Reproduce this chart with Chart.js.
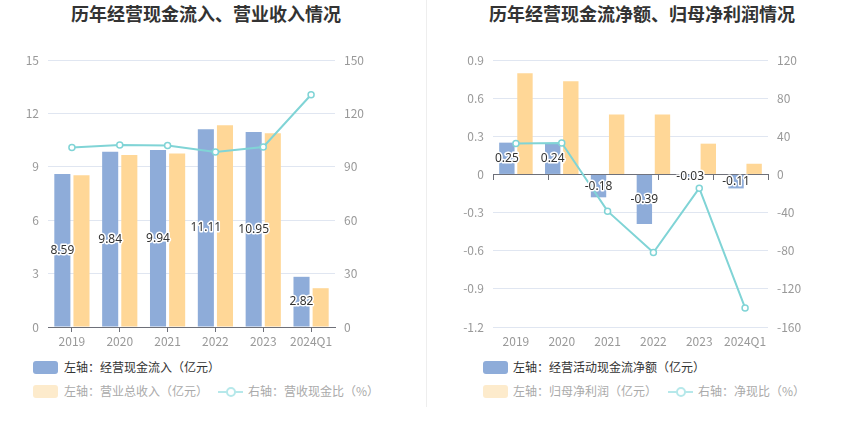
<!doctype html>
<html lang="zh">
<head>
<meta charset="utf-8">
<title>历年经营现金流情况</title>
<script src="https://cdn.jsdelivr.net/npm/chart.js"></script>
<style>
  html, body { margin: 0; padding: 0; background: #fff; overflow: hidden; }
  body { font-family: "Noto Sans CJK SC", "Noto Sans", sans-serif; }
  #wrap { position: relative; width: 850px; height: 437px; }
  .title { position: absolute; top: 2px; height: 22px; line-height: 22px; font-size: 18px; font-weight: bold; color: #333; text-align: center; }
  .sep { position: absolute; left: 426px; top: 0; width: 1px; height: 407px; background: #eeeeee; }
  canvas { position: absolute; top: 40px; }
  .box { position: absolute; width: 25px; height: 13px; border-radius: 3px; }
  .txt { position: absolute; font-size: 12px; line-height: 14px; white-space: nowrap; }
  .ico { position: absolute; width: 25px; height: 2px; }
  .ico i { position: absolute; left: 8px; top: -4px; width: 6px; height: 6px; border-radius: 50%; background: #fff; border: 2px solid #b6e8ea; }
</style>
</head>
<body>
<div id="wrap">
  <div class="title" style="left:0;width:412px">历年经营现金流入、营业收入情况</div>
  <div class="title" style="left:427px;width:430px">历年经营现金流净额、归母净利润情况</div>
  <div class="sep"></div>
  <canvas id="c1" width="425" height="311" style="left:0"></canvas>
  <canvas id="c2" width="425" height="311" style="left:425px"></canvas>

  <div class="box" style="left:33px;top:361px;background:#8eacd9"></div>
  <div class="txt" style="left:64px;top:360px;color:#333">左轴：经营现金流入（亿元）</div>
  <div class="box" style="left:33px;top:385px;background:#fdebcc"></div>
  <div class="txt" style="left:64px;top:384px;color:#aaa">左轴：营业总收入（亿元）</div>
  <div class="ico" style="left:218px;top:391px;background:#b6e8ea"><i></i></div>
  <div class="txt" style="left:248px;top:384px;color:#aaa">右轴：营收现金比（%）</div>

  <div class="box" style="left:483px;top:361px;background:#8eacd9"></div>
  <div class="txt" style="left:513px;top:360px;color:#333">左轴：经营活动现金流净额（亿元）</div>
  <div class="box" style="left:483px;top:385px;background:#fdebcc"></div>
  <div class="txt" style="left:513px;top:384px;color:#aaa">左轴：归母净利润（亿元）</div>
  <div class="ico" style="left:668px;top:391px;background:#b6e8ea"><i></i></div>
  <div class="txt" style="left:698px;top:384px;color:#aaa">右轴：净现比（%）</div>
</div>

<script>
  // data
  const years = ['2019', '2020', '2021', '2022', '2023', '2024Q1'];

  const cashIn = [8.59, 9.84, 9.94, 11.11, 10.95, 2.82];
  const revenue = [8.53, 9.66, 9.75, 11.34, 10.88, 2.18];
  const cashRevRatio = [100.9, 102.2, 102.0, 98.3, 101.1, 130.5];

  const netCash = [0.25, 0.24, -0.18, -0.39, -0.03, -0.11];
  const netProfit = [0.795, 0.732, 0.472, 0.472, 0.242, 0.084];
  const netCashRatio = [32.5, 32.9, -38.5, -81.9, -14.4, -140.0];

  const BLUE = '#8eacd9';
  const ORANGE = '#ffd797';
  const CYAN = '#80d4d6';
  const GRID = '#e0e6f1';
  const AXIS = '#6e7079';
  const TICK = '#999';

  Chart.defaults.font.family = '"Noto Sans CJK SC", "Noto Sans", sans-serif';
  Chart.defaults.font.size = 12;

  // value labels in the middle of the first bar series
  const barLabels = {
    id: 'barLabels',
    afterDatasetsDraw(chart) {
      const ctx = chart.ctx;
      const meta = chart.getDatasetMeta(0);
      const data = chart.data.datasets[0].data;
      ctx.save();
      ctx.font = '12px "Noto Sans", sans-serif';
      ctx.textAlign = 'center';
      ctx.textBaseline = 'middle';
      ctx.lineJoin = 'round';
      meta.data.forEach((bar, i) => {
        const y = (bar.y + bar.base) / 2;
        const t = data[i].toFixed(2);
        ctx.lineWidth = 3;
        ctx.strokeStyle = '#fff';
        ctx.strokeText(t, bar.x, y);
        ctx.fillStyle = '#333';
        ctx.fillText(t, bar.x, y);
      });
      ctx.restore();
    }
  };

  function lineSet(values) {
    return {
      type: 'line', data: values, yAxisID: 'y1', order: 0,
      borderColor: CYAN, borderWidth: 2,
      pointRadius: 3, pointBorderWidth: 1.5,
      pointBackgroundColor: '#fff', pointBorderColor: CYAN,
      tension: 0
    };
  }

  function barSet(values, color, cp, bp) {
    return {
      type: 'bar', data: values, yAxisID: 'y', order: 1,
      backgroundColor: color, categoryPercentage: cp, barPercentage: bp
    };
  }

  function yAxis(pos, min, max, step, width, grid) {
    return {
      position: pos, min, max,
      ticks: { stepSize: step, color: TICK, padding: 9 },
      grid: { display: grid, color: GRID, drawTicks: false },
      border: { display: false },
      afterFit(s) { s.width = width; }
    };
  }

  const flatTicks = { color: TICK, maxRotation: 0, minRotation: 0, autoSkip: false };

  new Chart(document.getElementById('c1'), {
    data: {
      labels: years,
      datasets: [
        barSet(cashIn, BLUE, 0.8, 0.84),
        barSet(revenue, ORANGE, 0.8, 0.84),
        lineSet(cashRevRatio)
      ]
    },
    options: {
      responsive: false,
      animation: false,
      layout: { padding: { top: 20 } },
      plugins: { legend: { display: false }, tooltip: { enabled: false } },
      scales: {
        x: {
          ticks: { ...flatTicks, padding: 2 },
          grid: { drawOnChartArea: false, offset: false, tickLength: 5, color: AXIS },
          border: { color: AXIS },
          afterFit(s) { s.height = 24; }
        },
        y: yAxis('left', 0, 15, 3, 48, true),
        y1: yAxis('right', 0, 150, 30, 90, false)
      }
    },
    plugins: [barLabels]
  });

  new Chart(document.getElementById('c2'), {
    data: {
      labels: years,
      datasets: [
        barSet(netCash, BLUE, 0.79, 0.85),
        barSet(netProfit, ORANGE, 0.79, 0.85),
        lineSet(netCashRatio)
      ]
    },
    options: {
      responsive: false,
      animation: false,
      layout: { padding: { top: 20 } },
      plugins: { legend: { display: false }, tooltip: { enabled: false } },
      scales: {
        x: {
          ticks: { ...flatTicks, padding: 7 },
          grid: { display: false, drawTicks: false },
          border: { display: false },
          afterFit(s) { s.height = 24; }
        },
        x0: {
          type: 'category', position: { y: 0 },
          ticks: { display: false },
          grid: { drawOnChartArea: false, offset: false, tickLength: 5, color: AXIS },
          border: { color: AXIS }
        },
        y: yAxis('left', -1.2, 0.9, 0.3, 68, true),
        y1: yAxis('right', -160, 120, 40, 82, false)
      }
    },
    plugins: [barLabels]
  });
</script>
</body>
</html>
